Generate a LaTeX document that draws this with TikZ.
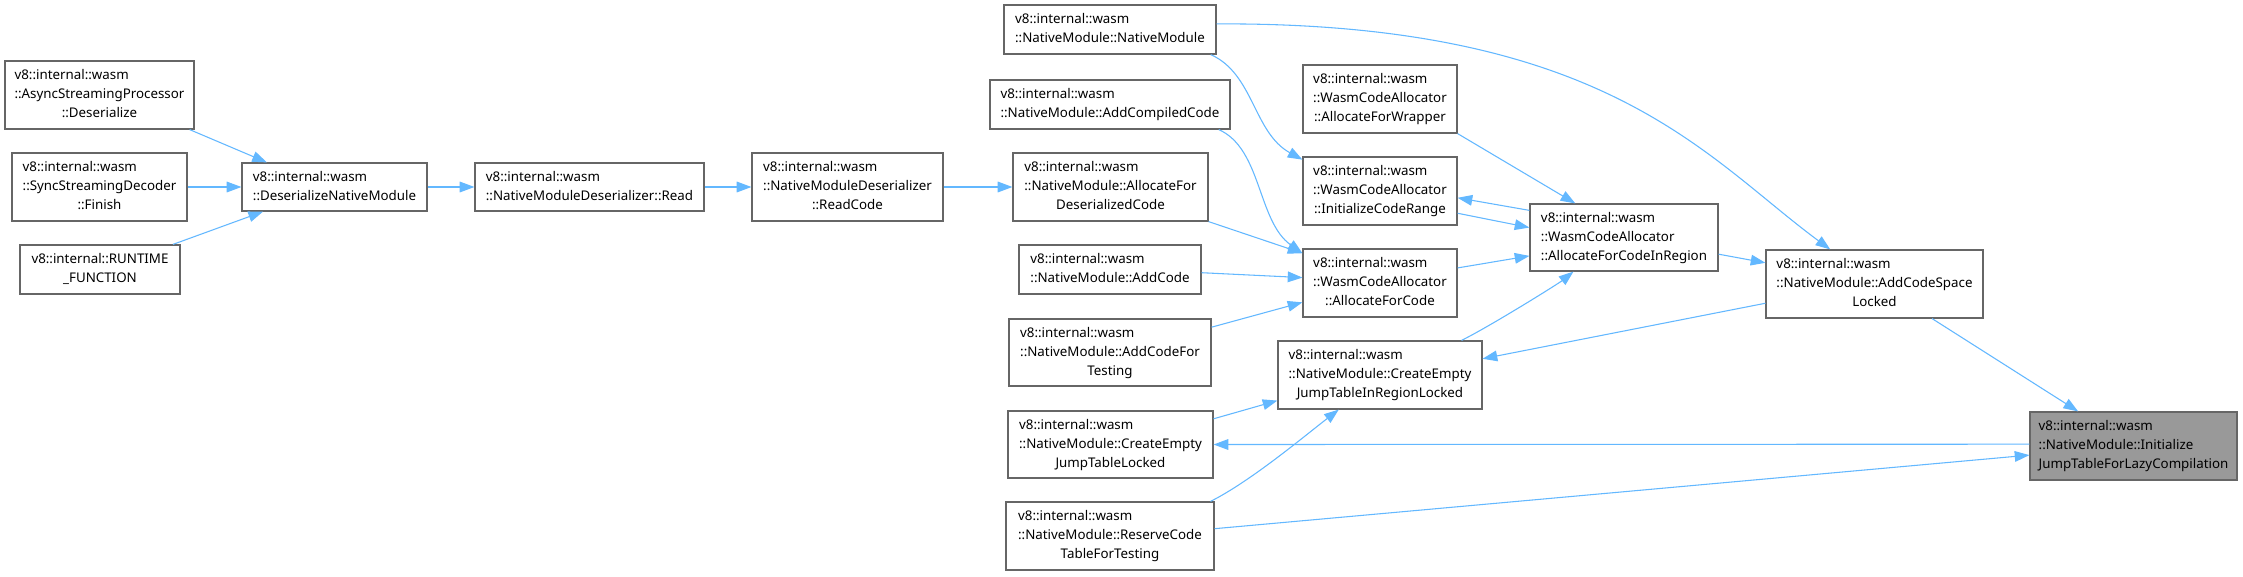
\documentclass[tikz,border=0pt]{standalone}
\usepackage{fontspec}
\setmainfont{Noto Sans}
\usetikzlibrary{arrows.meta}
\definecolor{edgeblue}{HTML}{63B8FF}
\definecolor{boxgray}{HTML}{666666}
\definecolor{hlgray}{HTML}{999999}
\newcommand\lc[1]{\multicolumn{1}{@{}c@{}}{#1}}
\newcommand\bx[7][]{%
  \pgfmathsetmacro\bxw{(#5-#3)*0.75}%
  \pgfmathsetmacro\bxh{(#6-#4)*0.75}%
  \node[box,minimum width=\bxw pt,minimum height=\bxh pt,#1] (#2) at ({(#3+#5)/2},{(#4+#6)/2}) {\begin{tabular}{@{}l@{}}#7\end{tabular}};%
}
\begin{document}
\begin{tikzpicture}[x=0.75pt,y=-0.75pt,
  box/.style={draw=boxgray,line width=0.9pt,fill=white,inner sep=0pt,text=black,
    font=\fontsize{10}{14.25}\selectfont},
  conn/.style={draw=edgeblue,line width=0.8pt,-{Triangle[length=11pt,width=8pt,fill=edgeblue]}}]
\fill[white] (0,0) rectangle (2243,576);
\useasboundingbox (0,0) rectangle (2243,576);

\bx{async}{5}{61}{194}{129}{v8::internal::wasm\\::AsyncStreamingProcessor\\\lc{::Deserialize}}
\bx{sync}{12}{153}{187}{221}{v8::internal::wasm\\::SyncStreamingDecoder\\\lc{::Finish}}
\bx{runtime}{20}{245}{180}{294}{v8::internal::RUNTIME\\\lc{\_FUNCTION}}
\bx{dnm}{242}{163}{427}{211}{v8::internal::wasm\\::DeserializeNativeModule}
\bx{read}{475}{163}{704}{211}{v8::internal::wasm\\::NativeModuleDeserializer::Read}
\bx{readcode}{752}{153}{943}{221}{v8::internal::wasm\\::NativeModuleDeserializer\\\lc{::ReadCode}}
\bx{afdc}{1013}{153}{1208}{221}{v8::internal::wasm\\::NativeModule::AllocateFor\\\lc{DeserializedCode}}
\bx{nm}{1004}{5}{1216}{54}{v8::internal::wasm\\::NativeModule::NativeModule}
\bx{acc}{990}{80}{1230}{129}{v8::internal::wasm\\::NativeModule::AddCompiledCode}
\bx{addcode}{1019}{245}{1201}{294}{v8::internal::wasm\\::NativeModule::AddCode}
\bx{acft}{1009}{319}{1211}{386}{v8::internal::wasm\\::NativeModule::AddCodeFor\\\lc{Testing}}
\bx{afw}{1303}{65}{1457}{133}{v8::internal::wasm\\::WasmCodeAllocator\\\lc{::AllocateForWrapper}}
\bx{icr}{1303}{157}{1457}{225}{v8::internal::wasm\\::WasmCodeAllocator\\\lc{::InitializeCodeRange}}
\bx{afc}{1303}{249}{1457}{317}{v8::internal::wasm\\::WasmCodeAllocator\\\lc{::AllocateForCode}}
\bx{afcir}{1530}{204}{1718}{271}{v8::internal::wasm\\::WasmCodeAllocator\\\lc{::AllocateForCodeInRegion}}
\bx{acsl}{1766}{250}{1983}{318}{v8::internal::wasm\\::NativeModule::AddCodeSpace\\\lc{Locked}}
\bx{cejtirl}{1278}{341}{1482}{409}{v8::internal::wasm\\::NativeModule::CreateEmpty\\\lc{JumpTableInRegionLocked}}
\bx{cejtl}{1008}{411}{1213}{478}{v8::internal::wasm\\::NativeModule::CreateEmpty\\\lc{JumpTableLocked}}
\bx{rctft}{1006}{502}{1214}{570}{v8::internal::wasm\\::NativeModule::ReserveCode\\\lc{TableForTesting}}
\bx[fill=hlgray]{ijt}{2030}{412}{2237}{480}{v8::internal::wasm\\::NativeModule::Initialize\\\lc{JumpTableForLazyCompilation}}

\draw[conn] (async.-21) -- (dnm.160);
\draw[conn] (sync.east) -- (dnm.west);
\draw[conn] (runtime.19.5) -- (dnm.199.3);
\draw[conn] (dnm.east) -- (read.west);
\draw[conn] (read.east) -- (readcode.west);
\draw[conn] (readcode.east) -- (afdc.west);
\draw[conn] (afdc.south east) -- (afc.159.4);
\draw[conn] (acc.-13.5) .. controls +(43,19) and +(-45,-32) .. (afc.159.4);
\draw[conn] (addcode.-2.8) -- (afc.176.3);
\draw[conn] (acft.14.7) -- (afc.194.6);
\draw[conn] (nm.-14.3) .. controls +(43,19) and +(-49,-27) .. (icr.158.7);
\draw[conn] (nm.3.5) .. controls +(390,-2) and +(-125,-92) .. (acsl.142.3);
\draw[conn] (afw.south east) -- (afcir.145.2);
\draw[conn] (afcir.164.4) -- (icr.-5.2);
\draw[conn] (icr.-16.6) -- (afcir.174.3);
\draw[conn] (afc.11) -- (afcir.191);
\draw[conn] (cejtirl.23.3) .. controls +(30,-15) and +(-15,12) .. (afcir.214.3);
\draw[conn] (afcir.-10.5) -- (acsl.169.1);
\draw[conn] (acsl.190.4) -- (cejtirl.9.9);
\draw[conn] (acsl.-31.5) -- (ijt.148.2);
\draw[conn] (ijt.179.4) -- (cejtl.0.3);
\draw[conn] (cejtl.14.5) -- (cejtirl.194.7);
\draw[conn] (rctft.19.5) .. controls +(40,-20) and +(-35,27) .. (cejtirl.220.5);
\draw[conn] (rctft.4.9) -- (ijt.185);
\end{tikzpicture}
\end{document}
